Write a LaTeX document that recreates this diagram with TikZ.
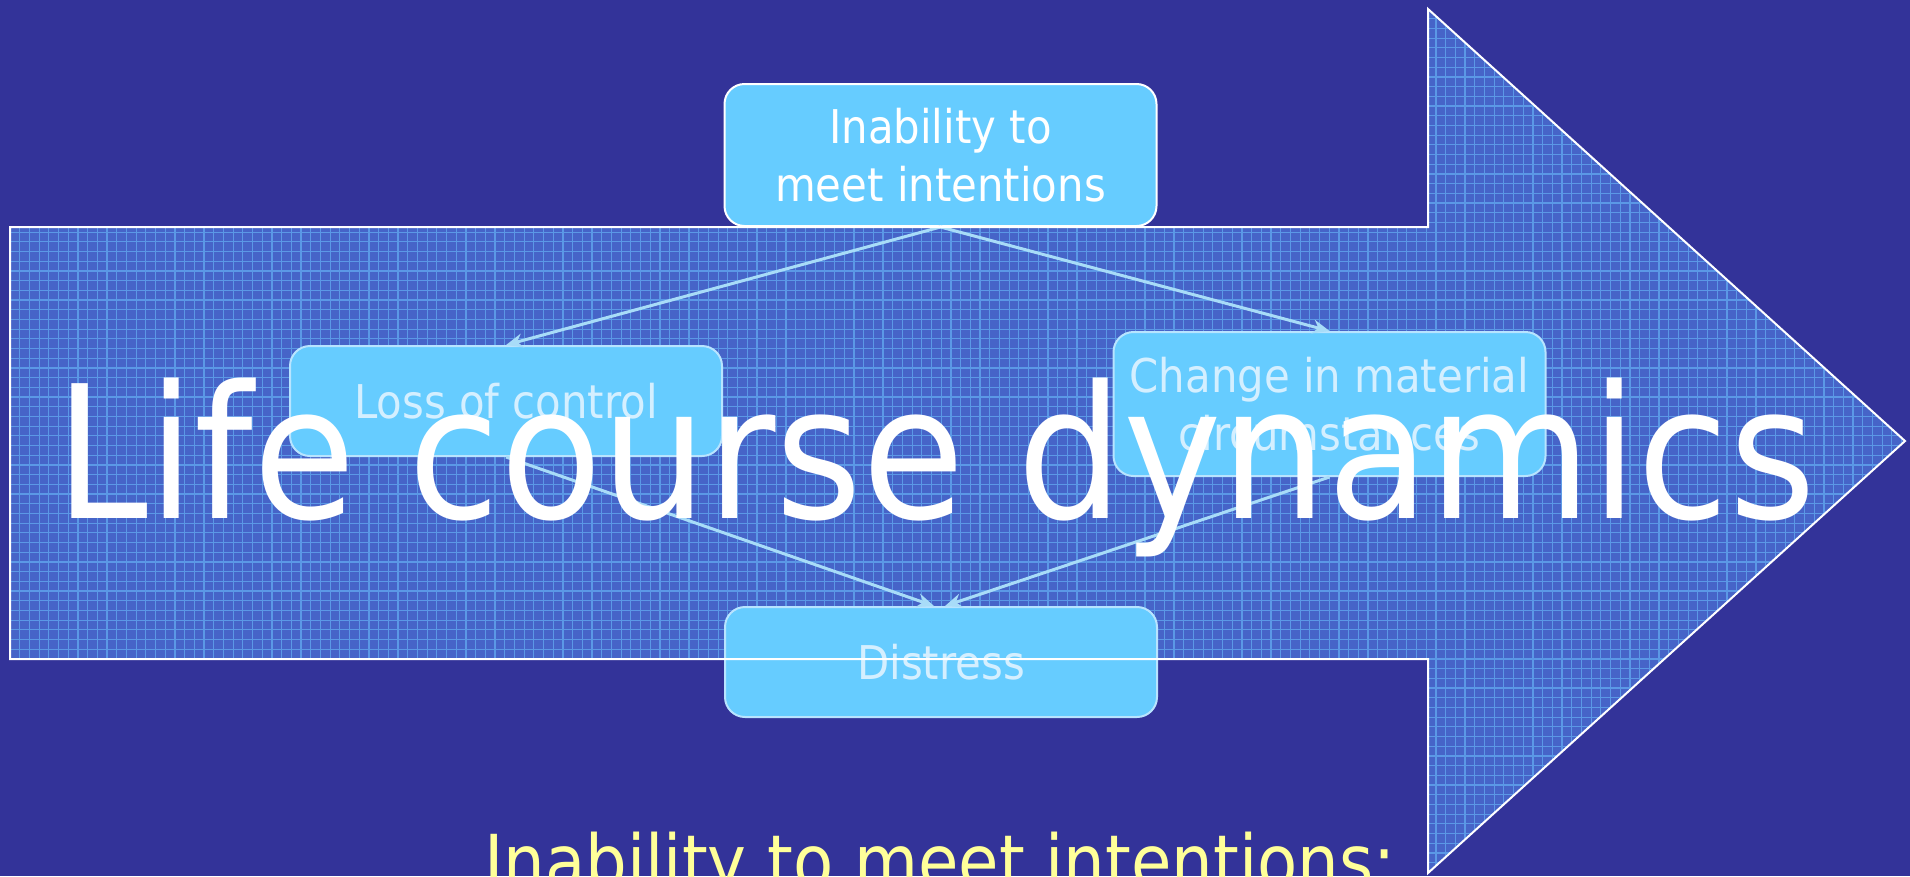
\documentclass[tikz,border=0pt]{standalone}
\usepackage{fontspec}
\usetikzlibrary{arrows.meta}
\newfontfamily\tah{DejaVu Sans Condensed}
\definecolor{bgblue}{HTML}{333399}
\definecolor{arrowfill}{HTML}{4664C8}
\definecolor{gridblue}{HTML}{5B98E6}
\definecolor{boxblue}{HTML}{66CCFF}
\definecolor{connblue}{HTML}{A8DCF8}
\definecolor{paletext}{HTML}{D4EFFF}
\definecolor{paleedge}{HTML}{B8E4FF}
\definecolor{titleyellow}{HTML}{FFFF99}
\begin{document}
\begin{tikzpicture}[x=1pt,y=-1pt,
  box/.style={draw=#1, line width=2pt, fill=boxblue, rounded corners=20pt,
    minimum width=432pt, inner sep=0pt, align=center,
    font=\tah\fontsize{46.5}{58}\selectfont},
  conn/.style={draw=connblue, line width=3pt, -{Stealth[length=17pt,width=14pt]}},
  bigtext/.style={text=white, inner sep=0pt, font=\tah\fontsize{185}{200}\selectfont},
  subtitle/.style={text=titleyellow, inner sep=0pt, font=\tah\fontsize{73}{80}\selectfont}]
\useasboundingbox (0,0) rectangle (1910,876);
\clip (0,0) rectangle (1910,876);
\fill[bgblue] (0,0) rectangle (1910,876);
% big arrow body
\begin{scope}
  \clip (10,227) -- (1428,227) -- (1428,9) -- (1905,441) -- (1428,873) -- (1428,659) -- (10,659) -- cycle;
  \fill[arrowfill] (0,0) rectangle (1910,876);
  \foreach \x in {10,19.7,...,1910} \draw[gridblue, line width=1.2pt] (\x,0) -- (\x,876);
  \foreach \y in {9,18.7,...,876} \draw[gridblue, line width=1.2pt] (0,\y) -- (1910,\y);
\end{scope}
% boxes
\node[box=white, minimum height=142pt, text=white] (top) at (940.5,155) {Inability to\\meet intentions};
\node[box=paleedge, minimum height=110pt, text=paletext] (loss) at (506,401) {Loss of control};
\node[box=paleedge, minimum height=144pt, text=paletext] (change) at (1329.5,404) {Change in material\\circumstances};
\node[box=paleedge, minimum height=110pt, text=paletext] (distress) at (941,662) {Distress};
% connectors
\draw[conn] (top.south) -- (loss.north);
\draw[conn] (top.south) -- (change.north);
\draw[conn] (loss.south) -- ([xshift=-7pt]distress.north);
\draw[conn] (change.south) -- ([xshift=4pt]distress.north);
% arrow outline
\draw[white, line width=2pt, line join=miter] (10,227) -- (1428,227) -- (1428,9) -- (1905,441) -- (1428,873) -- (1428,659) -- (10,659) -- cycle;
% texts
\node[bigtext, anchor=base] (life) at (936,518) {Life course dynamics};
\node[subtitle, anchor=base] (sub) at (940,887) {Inability to meet intentions:};
\end{tikzpicture}
\end{document}
